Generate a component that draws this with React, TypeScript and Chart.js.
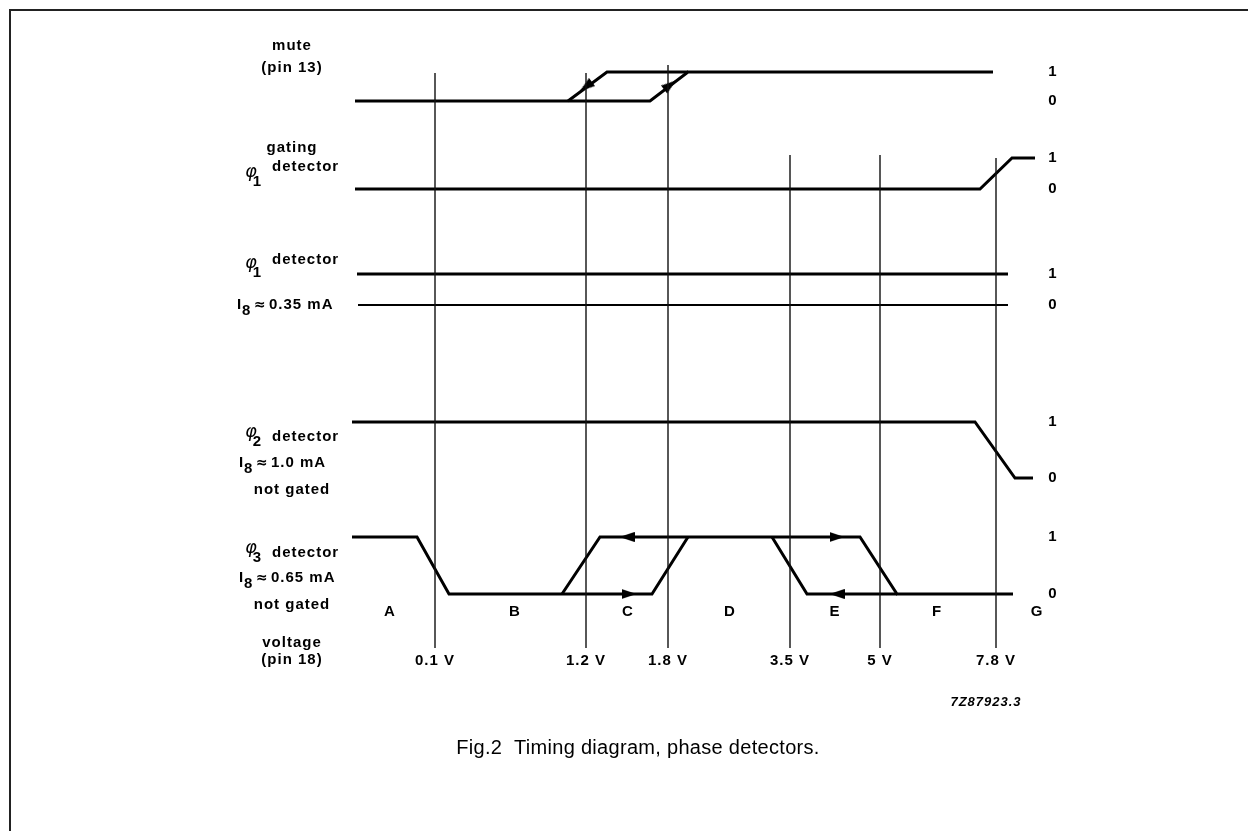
import React, { useEffect, useRef } from "react";
import { Chart, registerables } from "chart.js";

Chart.register(...registerables);

// ---- axis ranges (sweep position units, level units) ----
const X_MIN = 0;
const X_MAX = 68.3;
const Y_MIN = 0;
const Y_MAX = 62;

// ---- voltage thresholds (pin 18) ----
const thresholdLabels = ["0.1 V", "1.2 V", "1.8 V", "3.5 V", "5 V", "7.8 V"];
const thresholdPos = [8.3, 23.4, 31.6, 43.8, 52.8, 64.4];
const thresholdTop = [58.7, 58.7, 59.5, 50.5, 50.5, 50.2];
const thresholdBottom = 1.2;

// ---- regions ----
const regionLabels = ["A", "B", "C", "D", "E", "F", "G"];
const regionPos = [3.8, 16.3, 27.6, 37.8, 48.3, 58.5, 68.5];
const regionY = 4.8;
const voltageLabelY = -0.1;

// ---- rows: baseline of level 0 and height of level 1 ----
const rowBase = [55.9, 47.1, 35.5, 18.2, 6.6];
const rowAmp = [2.9, 3.1, 3.1, 5.6, 5.7];

// ---- signal traces (x position, logic level) ----
const muteX1 = [0.3, 29.8, 33.6, 64.1];
const muteL1 = [0, 0, 1, 1];
const muteX2 = [21.6, 25.5, 33.6];
const muteL2 = [0, 1, 1];

const gatingX = [0.3, 62.8, 66.0, 68.3];
const gatingL = [0, 0, 1, 1];

const phi1HighX = [0.5, 65.6];
const phi1HighL = [1, 1];
const phi1LowX = [0.6, 65.6];
const phi1LowL = [0, 0];

const phi2X = [0, 62.3, 66.3, 68.1];
const phi2L = [1, 1, 0, 0];

const phi3X1 = [0, 6.5, 9.7, 30.0, 33.6];
const phi3L1 = [1, 1, 0, 0, 1];
const phi3X2 = [21.0, 24.8, 50.8, 54.5, 66.1];
const phi3L2 = [0, 1, 1, 0, 0];
const phi3X3 = [42.0, 45.5, 54.5];
const phi3L3 = [1, 0, 0];

// ---- direction arrows ----
const muteArrowX = [23.4, 31.8];
const muteArrowL = [0.5, 0.55];
const muteArrowRot = [143.4, -37.3];
const phi3ArrowX = [27.7, 27.5, 48.5, 48.5];
const phi3ArrowL = [0, 1, 1, 0];
const phi3ArrowRot = [0, 180, 0, 180];

// ---- level labels on right ----
const levelLabelX = 70.1;

// ---- left labels ----
const leftLabelX = -6.0;
const leftLabelText = ["mute", "(pin 13)", "gating", "not gated", "not gated", "voltage", "(pin 18)"];
const leftLabelY = [61.4, 59.2, 51.2, 17.0, 5.5, 1.7, 0];

const detSub = ["1", "1", "2", "3"];
const detPhiY = [48.8, 39.7, 22.8, 11.2];
const detTextY = [49.3, 40.0, 22.3, 10.7];
const detPhiX = -10.1;
const detTextX = -8.0;

const currentText = ["0.35 mA", "1.0 mA", "0.65 mA"];
const currentY = [35.5, 19.7, 8.2];
const currentX = [-11.5, -11.3, -11.3];

const codeLabel = "7Z87923.3";
const caption = "Fig.2  Timing diagram, phase detectors.";

function pts(row: number, xs: number[], ls: number[]) {
  return xs.map((x, i) => ({ x, y: rowBase[row] + ls[i] * rowAmp[row] }));
}

const BOLD = 'bold 15px "Liberation Sans", Arial, sans-serif';

function txt(
  ctx: CanvasRenderingContext2D,
  s: string,
  px: number,
  py: number,
  font: string,
  align: CanvasTextAlign = "center",
  spacing = "1px"
) {
  ctx.font = font;
  (ctx as any).letterSpacing = spacing;
  ctx.textAlign = align;
  ctx.textBaseline = "middle";
  ctx.fillText(s, px, py);
}

const textPlugin = {
  id: "diagramTexts",
  afterDraw(chart: any) {
    const ctx: CanvasRenderingContext2D = chart.ctx;
    const xs = chart.scales.x;
    const ys = chart.scales.y;
    const X = (v: number) => xs.getPixelForValue(v);
    const Y = (v: number) => ys.getPixelForValue(v);
    ctx.save();
    ctx.fillStyle = "#000";

    // frame (top and left rules)
    ctx.strokeStyle = "#222";
    ctx.lineWidth = 2;
    ctx.beginPath();
    ctx.moveTo(chart.width, 10);
    ctx.lineTo(10, 10);
    ctx.lineTo(10, chart.height);
    ctx.stroke();

    // right level labels
    for (let r = 0; r < rowBase.length; r++) {
      txt(ctx, "1", X(levelLabelX), Y(rowBase[r] + rowAmp[r]), BOLD);
      txt(ctx, "0", X(levelLabelX), Y(rowBase[r]), BOLD);
    }

    // region letters and voltage labels
    regionLabels.forEach((s, i) => txt(ctx, s, X(regionPos[i]), Y(regionY), BOLD));
    thresholdLabels.forEach((s, i) => txt(ctx, s, X(thresholdPos[i]), Y(voltageLabelY), BOLD));

    // left labels
    leftLabelText.forEach((s, i) => txt(ctx, s, X(leftLabelX), Y(leftLabelY[i]), BOLD));

    detSub.forEach((s, i) => {
      txt(ctx, "\u03C6", X(detPhiX), Y(detPhiY[i]), 'italic 18px "DejaVu Sans", sans-serif', "center", "0px");
      txt(ctx, s, X(detPhiX) + 6, Y(detPhiY[i]) + 10, BOLD, "center", "0px");
      txt(ctx, "detector", X(detTextX), Y(detTextY[i]), BOLD, "left");
    });

    currentText.forEach((s, i) => {
      const x0 = X(currentX[i]);
      const y0 = Y(currentY[i]);
      txt(ctx, "I", x0, y0, 'bold 15px "Liberation Sans", Arial, sans-serif', "left", "0px");
      txt(ctx, "8", x0 + 5, y0 + 6, BOLD, "left", "0px");
      txt(ctx, "\u2248", x0 + 17, y0, 'bold 14px "DejaVu Sans", sans-serif', "left", "0px");
      txt(ctx, s, x0 + 32, y0, BOLD, "left");
    });

    // figure code and caption
    txt(ctx, codeLabel, X(64.4) - 10, Y(-4.2), 'italic bold 13px "Liberation Sans", Arial, sans-serif');
    txt(ctx, caption, X(28.6), Y(-8.8), '20px "Liberation Sans", Arial, sans-serif', "center", "0.3px");

    ctx.restore();
  },
};

function makeArrow(): HTMLCanvasElement {
  const c = document.createElement("canvas");
  c.width = 15;
  c.height = 10;
  const g = c.getContext("2d")!;
  g.fillStyle = "#000";
  g.beginPath();
  g.moveTo(0, 0);
  g.lineTo(15, 5);
  g.lineTo(0, 10);
  g.closePath();
  g.fill();
  return c;
}

export default function App() {
  const ref = useRef<HTMLCanvasElement | null>(null);

  useEffect(() => {
    if (!ref.current) return;
    const arrow = makeArrow();
    const trace = (data: any[], width = 3) => ({
      data,
      showLine: true,
      borderColor: "#000",
      borderWidth: width,
      pointRadius: 0,
      tension: 0,
      fill: false,
      clip: false as any,
      borderJoinStyle: "miter" as const,
    });

    const thresholdSets = thresholdPos.map((x, i) => ({
      data: [
        { x, y: thresholdTop[i] },
        { x, y: thresholdBottom },
      ],
      showLine: true,
      borderColor: "#111",
      borderWidth: 1.4,
      pointRadius: 0,
      clip: false as any,
    }));

    const muteArrows = muteArrowX.map((x, i) => ({ x, y: rowBase[0] + muteArrowL[i] * rowAmp[0] }));
    const phi3Arrows = phi3ArrowX.map((x, i) => ({ x, y: rowBase[4] + phi3ArrowL[i] * rowAmp[4] }));

    const chart = new Chart(ref.current, {
      type: "scatter",
      data: {
        datasets: [
          ...thresholdSets,
          trace(pts(0, muteX1, muteL1)),
          trace(pts(0, muteX2, muteL2)),
          trace(pts(1, gatingX, gatingL)),
          trace(pts(2, phi1HighX, phi1HighL)),
          trace(pts(2, phi1LowX, phi1LowL), 2),
          trace(pts(3, phi2X, phi2L)),
          trace(pts(4, phi3X1, phi3L1)),
          trace(pts(4, phi3X2, phi3L2)),
          trace(pts(4, phi3X3, phi3L3)),
          {
            data: [...muteArrows, ...phi3Arrows],
            showLine: false,
            pointStyle: arrow as any,
            pointRadius: 5,
            rotation: [...muteArrowRot, ...phi3ArrowRot] as any,
            clip: false as any,
          },
        ] as any,
      },
      options: {
        animation: false,
        responsive: false,
        events: [],
        layout: { padding: { left: 352, right: 213, top: 40, bottom: 171 } },
        plugins: { legend: { display: false }, tooltip: { enabled: false } },
        scales: {
          x: { type: "linear", min: X_MIN, max: X_MAX, display: false },
          y: { type: "linear", min: Y_MIN, max: Y_MAX, display: false },
        },
      },
      plugins: [textPlugin as any],
    });
    return () => chart.destroy();
  }, []);

  return (
    <div style={{ position: "absolute", left: 0, top: 0, width: 1248, height: 831, background: "#fff" }}>
      <canvas ref={ref} width={1248} height={831} style={{ display: "block" }} />
    </div>
  );
}
